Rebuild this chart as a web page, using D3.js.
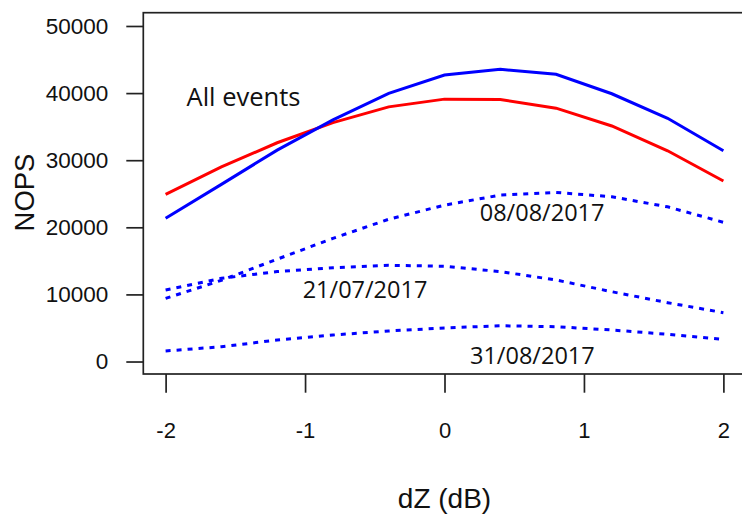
<!DOCTYPE html>
<html>
<head>
<meta charset="utf-8">
<script src="https://cdn.jsdelivr.net/npm/d3@7"></script>
<style>
  html, body { margin: 0; padding: 0; background: #fff; }
  svg { display: block; }
</style>
</head>
<body>
<svg id="chart" width="742" height="520"></svg>
<script>
// dZ offsets (dB) at which NOPS was evaluated
const dz = [-2, -1.6, -1.2, -0.8, -0.4, 0, 0.4, 0.8, 1.2, 1.6, 2];

// All events, two configurations
const allBlue = [21350, 26400, 31500, 36000, 39950, 42700, 43550, 42800, 39900, 36250, 31400];
const allRed  = [24900, 29000, 32600, 35600, 37950, 39100, 39050, 37750, 35100, 31400, 26900];

// Single-event curves (dotted)
const ev0808 = [9400, 12100, 15250, 18350, 21200, 23300, 24800, 25200, 24550, 23050, 20750];
const ev2107 = [10650, 12400, 13400, 13980, 14340, 14200, 13400, 12150, 10400, 8770, 7280];
const ev3108 = [1570, 2200, 3200, 3950, 4550, 5000, 5330, 5190, 4700, 4060, 3310];

const yTicks = [0, 10000, 20000, 30000, 40000, 50000];
const xTicks = [-2, -1, 0, 1, 2];

const labels = [
  { text: "All events", x: -1.85, y: 38100, anchor: "start", size: 25.5 },
  { text: "08/08/2017", x: 0.7, y: 20900, anchor: "middle", size: 23.5 },
  { text: "21/07/2017", x: -0.57, y: 9400, anchor: "middle", size: 23.5 },
  { text: "31/08/2017", x: 0.63, y: -400, anchor: "middle", size: 23.5 }
];

const svg = d3.select("#chart");
const plotLeft = 143.3, plotRight = 745.7, plotTop = 12.7, plotBottom = 374;

const x = d3.scaleLinear().domain([-2.16, 2.16]).range([plotLeft, plotRight]);
const y = d3.scaleLinear().domain([-1860, 51980]).range([plotBottom, plotTop]);

// Y axis
const yAxis = svg.append("g")
  .attr("transform", `translate(${plotLeft},0)`)
  .call(d3.axisLeft(y).tickValues(yTicks).tickFormat(d3.format("d")).tickSize(17).tickPadding(18));
yAxis.select(".domain").remove();
yAxis.selectAll("line").attr("stroke", "#222").attr("stroke-width", 1.7);
yAxis.selectAll("text")
  .attr("font-family", "Liberation Sans, Arial, sans-serif")
  .attr("font-size", 22.5).attr("fill", "#111");

// X axis
const xAxis = svg.append("g")
  .attr("transform", `translate(0,${plotBottom})`)
  .call(d3.axisBottom(x).tickValues(xTicks).tickFormat(d3.format("d")).tickSize(18.7).tickPadding(29.5));
xAxis.select(".domain").remove();
xAxis.selectAll("line").attr("stroke", "#222").attr("stroke-width", 1.7);
xAxis.selectAll("text")
  .attr("font-family", "Liberation Sans, Arial, sans-serif")
  .attr("font-size", 22).attr("fill", "#111")
  .text(d => d < 0 ? "-" + Math.abs(d) : d);

// Plot frame
svg.append("rect")
  .attr("x", plotLeft).attr("y", plotTop)
  .attr("width", plotRight - plotLeft).attr("height", plotBottom - plotTop)
  .attr("fill", "none").attr("stroke", "#222").attr("stroke-width", 1.7);

// Axis titles
svg.append("text")
  .attr("x", (plotLeft + plotRight) / 2).attr("y", 508)
  .attr("text-anchor", "middle")
  .attr("font-family", "Liberation Sans, Arial, sans-serif")
  .attr("font-size", 28).attr("fill", "#111")
  .text("dZ (dB)");

svg.append("text")
  .attr("transform", `translate(33.5,192.5) rotate(-90)`)
  .attr("text-anchor", "middle")
  .attr("font-family", "Liberation Sans, Arial, sans-serif")
  .attr("font-size", 27.5).attr("fill", "#111")
  .text("NOPS");

// Curves
const line = d3.line().x((d, i) => x(dz[i])).y(d => y(d));
const series = [
  { values: ev0808, color: "#0000ff", dash: "5,6" },
  { values: ev2107, color: "#0000ff", dash: "5,6" },
  { values: ev3108, color: "#0000ff", dash: "5,6" },
  { values: allRed, color: "#ff0000", dash: null },
  { values: allBlue, color: "#0000ff", dash: null }
];
svg.append("g").selectAll("path")
  .data(series)
  .join("path")
  .attr("d", s => line(s.values))
  .attr("fill", "none")
  .attr("stroke", s => s.color)
  .attr("stroke-width", 3)
  .attr("stroke-dasharray", s => s.dash);

// Curve annotations
svg.append("g").selectAll("text")
  .data(labels)
  .join("text")
  .attr("x", d => x(d.x)).attr("y", d => y(d.y))
  .attr("text-anchor", d => d.anchor)
  .attr("font-family", "Open Sans, sans-serif")
  .attr("font-size", d => d.size).attr("fill", "#111")
  .text(d => d.text);
</script>
</body>
</html>
